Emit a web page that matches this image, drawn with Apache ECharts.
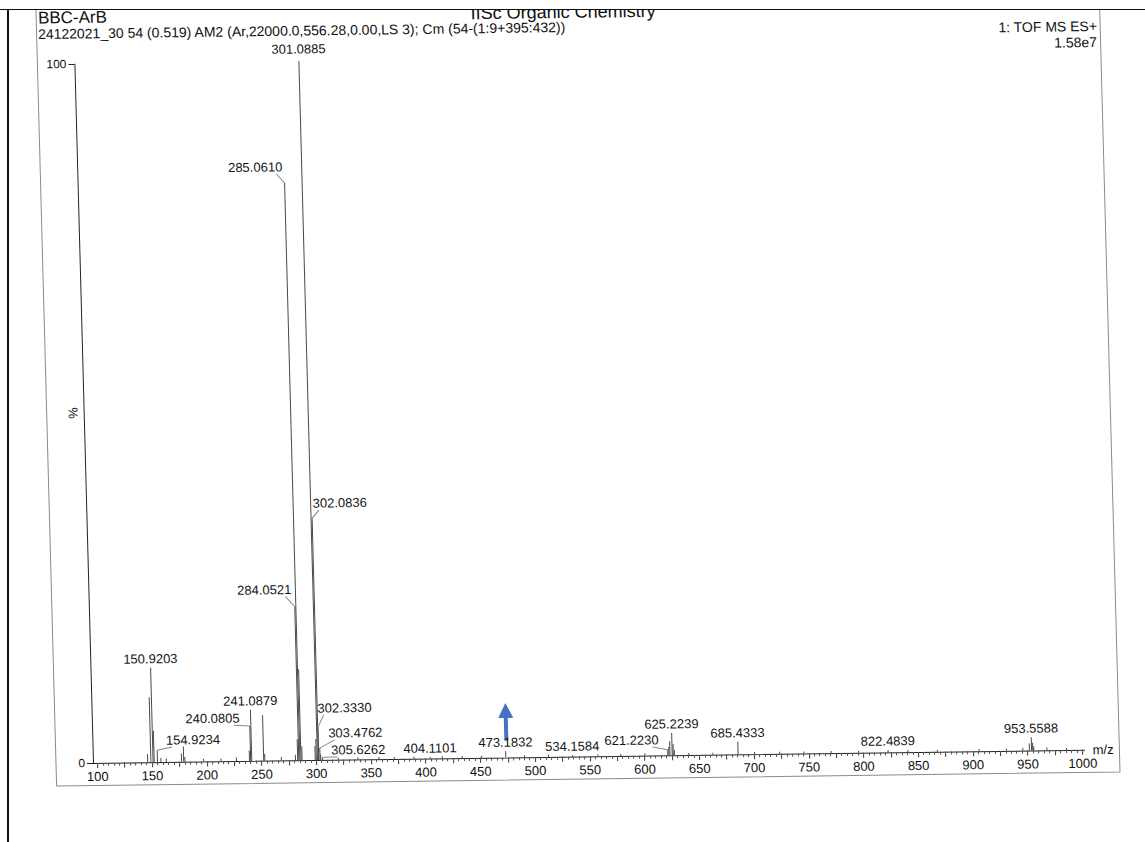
<!DOCTYPE html>
<html><head><meta charset="utf-8">
<script src="https://cdn.jsdelivr.net/npm/echarts@6/dist/echarts.min.js"></script>
<style>
html,body{margin:0;padding:0;background:#fff;width:1145px;height:842px;overflow:hidden;}
#chart{position:absolute;left:0;top:0;width:1145px;height:842px;transform-origin:93px 763px;transform:matrix(1,-0.0133,0.0266,1,0,0);}
#topmask{position:absolute;left:0;top:0;width:1145px;height:9px;background:#fff;border-bottom:1.5px solid #111;}
#leftrule{position:absolute;left:7px;top:9px;width:1.5px;height:833px;background:#111;}
</style></head><body>
<div id="chart"></div><div id="topmask"></div><div id="leftrule"></div>
<script>
// ---- data ----
const labeledMz  = [150.9203,154.9234,240.0805,241.0879,284.0521,285.0610,301.0885,302.0836,302.3330,303.4762,305.6262,404.1101,473.1832,534.1584,621.2230,625.2239,685.4333,822.4839,953.5588];
const labeledPct = [13.5,1.7,5.0,7.3,22.0,82.6,100,34.6,4.7,1.7,0.4,0.2,0.9,0.2,0.8,3.2,1.8,0.35,1.9];
const otherMz  = [146.0,148.92,151.93,158.1,163.0,176.9,178.9,180.0,197.1,213.0,227.1,239.0,252.0,253.0,268.1,281.0,283.05,286.06,287.06,299.07,300.08,304.1,320.2,338.1,357.3,371.2,389.2,415.1,433.3,451.2,490.3,512.2,557.4,578.3,600.2,622.2,623.2,626.2,627.2,640.4,662.4,700.5,723.4,745.5,770.5,795.5,840.5,867.5,905.6,930.6,945.6,951.6,954.6,955.6,967.6,985.6];
const otherPct = [1.2,9.3,4.5,0.6,0.5,1.2,2.2,0.7,0.4,0.4,0.5,1.5,6.5,1.0,0.5,0.8,3.0,13.0,2.0,2.0,3.0,0.8,0.3,0.3,0.3,0.3,0.3,0.3,0.3,0.3,0.3,0.3,0.3,0.3,0.3,1.2,2.0,1.6,0.8,0.3,0.3,0.3,0.3,0.3,0.3,0.3,0.3,0.3,0.3,0.3,0.4,1.0,1.1,0.6,0.4,0.3];
const xTickLabels = [100,150,200,250,300,350,400,450,500,550,600,650,700,750,800,850,900,950,1000];
const yTickLabels = [0,100];
const yAxisTitle = '%';
const xAxisTitle = 'm/z';
const headerTitle = 'BBC-ArB';
const headerRun = '24122021_30 54 (0.519) AM2 (Ar,22000.0,556.28,0.00,LS 3); Cm (54-(1:9+395:432))';
const headerInst = 'IISc Organic Chemistry';
const headerMode = '1: TOF MS ES+';
const headerScale = '1.58e7';
const arrowMz = 473.1832;

// ---- style / layout (not data) ----
const FONT = '"Liberation Sans", Arial, sans-serif';
// label offsets (px) from the peak top; null = centred just above the peak
const labelShift = [null,[36,-10],[-37,-8],null,[-30,-17],[-29,-16],[0,-12],[28,-15],[27,-19],[36,-15],[36,-7],null,null,null,[-36,-10],null,null,null,null];
// scan skew (matrix used on the chart div)
const SB = -0.0133, SC = 0.0266, OX = 93, OY = 763;
function pre(X, Y){ // screen point -> pre-transform point
  const dx = X-OX, dy = Y-OY, det = 1 - SB*SC;
  return [OX + (dx - SC*dy)/det, OY + (dy - SB*dx)/det];
}
const tick25 = [], tick5 = [];
for (let v = 100; v <= 1000; v += 25) tick25.push(v);
for (let v = 100; v <= 1000; v += 5) tick5.push(v);

const allMz = labeledMz.concat(otherMz);
const allPct = labeledPct.concat(otherPct);
const stickData = allMz.map((m, i) => [m, allPct[i]]);
const labelData = labeledMz.map((m, i) => [m, labeledPct[i]]);

const chart = echarts.init(document.getElementById('chart'), null, {renderer: 'svg'});

function stickItem(params, api){
  const t = api.coord([api.value(0), api.value(1)]);
  const b = api.coord([api.value(0), 0]);
  return {type: 'line', shape: {x1: t[0], y1: t[1], x2: b[0], y2: b[1]},
          style: {stroke: '#4a4a4a', lineWidth: 1}};
}
function labelItem(params, api){
  const i = params.dataIndex;
  const p = api.coord([api.value(0), api.value(1)]);
  const s = labelShift[i] || [0, -9];
  const cx = p[0] + s[0], cy = p[1] + s[1];
  const kids = [{type: 'text', x: cx, y: cy,
    style: {text: labeledMz[i].toFixed(4), align: 'center', verticalAlign: 'middle', fill: '#151515', font: '13px ' + FONT}}];
  if (s[0] !== 0) {
    const sx = s[0] < 0 ? cx + 21 : cx - 21;
    kids.push({type: 'line', shape: {x1: sx, y1: cy + 7, x2: p[0], y2: p[1]}, style: {stroke: '#888', lineWidth: 1}});
  }
  return {type: 'group', children: kids};
}

const pBBC = pre(38, 18), pRun = pre(38, 34), pInst = pre(563, 12), pMode = pre(1097, 26), pScale = pre(1097, 42), pPct = pre(73, 413);
const txt = (p, text, size, align, rot) => ({type: 'text', x: p[0], y: p[1], rotation: rot || 0, silent: true,
  style: {text: text, font: size + 'px ' + FONT, fill: '#111', align: align, verticalAlign: 'middle'}});

const option = {
  animation: false,
  backgroundColor: '#fff',
  grid: {left: 93, top: 64, bottom: 79, right: 60.4, containLabel: false},
  xAxis: [{
    type: 'value', min: 96, max: 1002, position: 'bottom',
    axisLine: {show: true, lineStyle: {color: '#222', width: 1}},
    axisTick: {show: true, length: 5, customValues: tick25, lineStyle: {color: '#333'}},
    axisLabel: {show: true, customValues: xTickLabels, margin: 7, fontSize: 13, fontFamily: FONT, color: '#111',
      formatter: v => String(v)},
    splitLine: {show: false},
    name: xAxisTitle, nameLocation: 'end', nameGap: 8,
    nameTextStyle: {fontSize: 13, fontFamily: FONT, color: '#111'}
  }, {
    type: 'value', min: 96, max: 1002, position: 'bottom',
    axisLine: {show: false},
    axisTick: {show: true, length: 3, customValues: tick5, lineStyle: {color: '#555'}},
    axisLabel: {show: false}, splitLine: {show: false}
  }],
  yAxis: {
    type: 'value', min: 0, max: 100, interval: 100,
    axisLine: {show: true, lineStyle: {color: '#222', width: 1}},
    axisTick: {show: true, length: 6, lineStyle: {color: '#222'}},
    axisLabel: {margin: 8, fontSize: 12, fontFamily: FONT, color: '#111',
      formatter: v => (yTickLabels.indexOf(v) >= 0 ? String(v) : '')},
    splitLine: {show: false}
  },
  series: [
    {type: 'custom', name: 'spectrum', renderItem: stickItem, data: stickData, clip: false, xAxisIndex: 0},
    {type: 'custom', name: 'labels', renderItem: labelItem, data: labelData, clip: false, xAxisIndex: 0, z: 5}
  ],
  graphic: [
    txt(pBBC, headerTitle, 17, 'left'),
    txt(pRun, headerRun, 14, 'left'),
    txt(pInst, headerInst, 18, 'center'),
    txt(pMode, headerMode, 14, 'right'),
    txt(pScale, headerScale, 14, 'right'),
    txt(pPct, yAxisTitle, 13, 'center', Math.PI / 2)
  ]
};
chart.setOption(option);

// scan page border + annotation arrow (placed through the chart's own scales)
const pgL = 56, pgR = 1119.4, pgB = 785.6;
const a0 = chart.convertToPixel({xAxisIndex: 0, yAxisIndex: 0}, [arrowMz, 2.4]);
const a1 = chart.convertToPixel({xAxisIndex: 0, yAxisIndex: 0}, [arrowMz, 7.8]);
const ax = a0[0] + 1;
chart.setOption({graphic: option.graphic.concat([
  {type: 'polyline', silent: true, shape: {points: [[pgL, 0], [pgL, pgB], [pgR, pgB], [pgR, 0]]},
   style: {stroke: '#8a8a8a', lineWidth: 1, fill: null}},
  {type: 'rect', silent: true, shape: {x: ax - 2, y: a1[1] + 14, width: 4, height: a0[1] - a1[1] - 14},
   style: {fill: '#4472C4'}},
  {type: 'polygon', silent: true, shape: {points: [[ax, a1[1]], [ax - 7.5, a1[1] + 15], [ax + 7.5, a1[1] + 15]]},
   style: {fill: '#4472C4'}}
])});
</script>
</body></html>
